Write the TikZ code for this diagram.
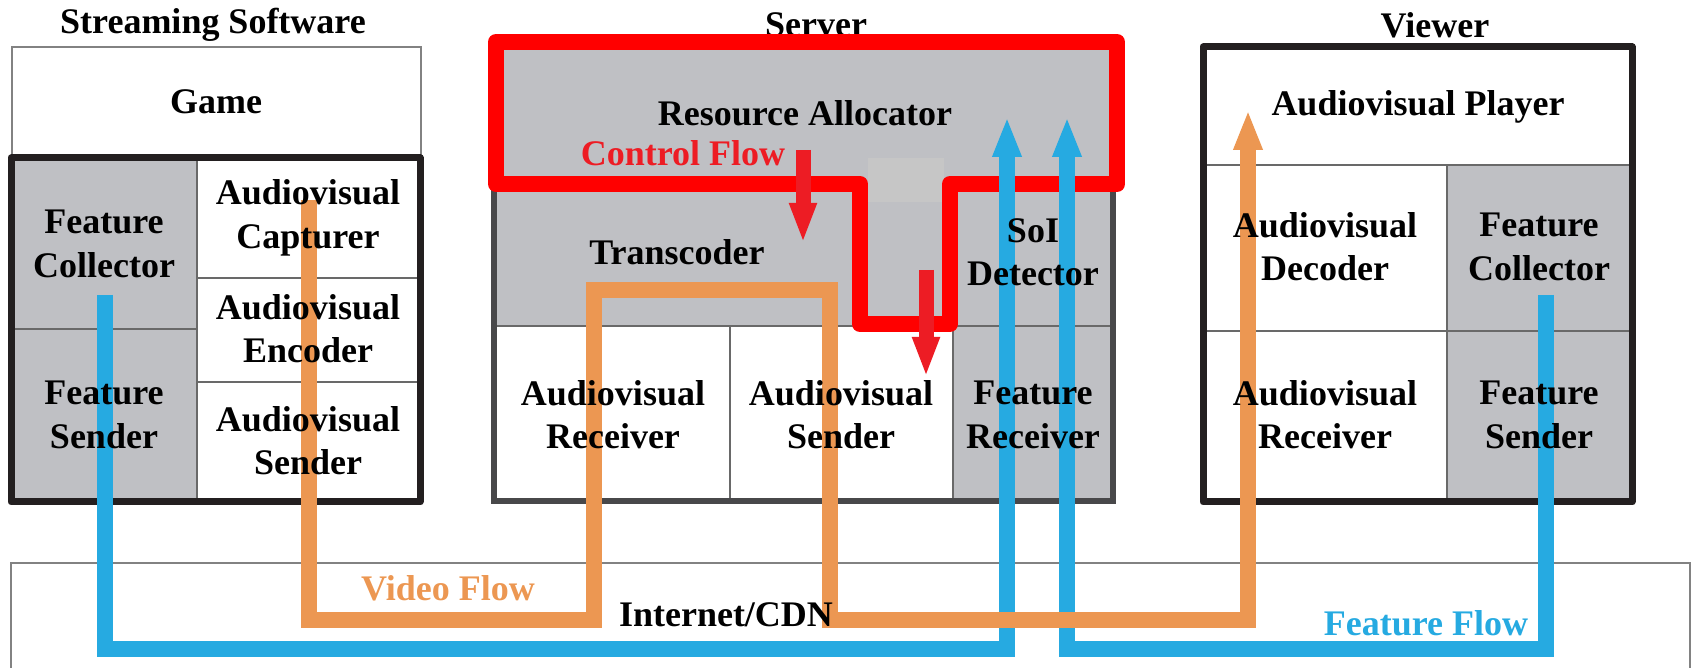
\documentclass[tikz,border=0pt]{standalone}
\usepackage{fontspec}
\setmainfont{Liberation Serif}
\usetikzlibrary{arrows.meta}
\definecolor{cellgray}{RGB}{191,192,196}
\definecolor{patchgray}{RGB}{198,198,198}
\definecolor{flowblue}{RGB}{38,170,225}
\definecolor{floworange}{RGB}{236,151,82}
\definecolor{ctrlred}{RGB}{237,28,36}
\definecolor{framered}{RGB}{255,0,0}
\definecolor{frameblack}{RGB}{35,31,32}
\definecolor{framedark}{RGB}{72,72,74}
\definecolor{divider}{RGB}{105,105,105}
\definecolor{thinframe}{RGB}{130,130,130}
\begin{document}
\begin{tikzpicture}[x=0.3pt,y=-0.3pt,
  lbl/.style={font=\fontsize{10.8}{13}\selectfont\bfseries, align=center, inner sep=0pt},
  divline/.style={draw=divider, line width=0.45pt},
  heavybox/.style={draw=frameblack, line width=2.1pt, line join=round},
  serverbox/.style={draw=framedark, line width=1.8pt},
  flowline/.style={line width=4.8pt, line join=miter,
    -{Triangle[length=12pt,width=8pt]}},
  ctrlarrow/.style={draw=ctrlred, line width=4.5pt,
    -{Triangle[length=12pt,width=7.5pt]}}]
\useasboundingbox (0,0) rectangle (1692,668);

% ---------- Streaming software ----------
\draw[thinframe, line width=0.45pt] (12,47) rectangle (421,155);
\fill[white] (11,158) rectangle (420,502);
\fill[cellgray] (11,158) rectangle (197,502);
\draw[divline] (197,158) -- (197,502);
\draw[divline] (11,329) -- (197,329);
\draw[divline] (197,278) -- (420,278);
\draw[divline] (197,382) -- (420,382);
\draw[heavybox] (11,158) rectangle (420,502);

% ---------- Server ----------
\fill[cellgray] (494,42) rectangle (1113,501);
\fill[white] (494,326) rectangle (953,501);
\draw[divline] (494,326) -- (1113,326);
\draw[divline] (730,326) -- (730,501);
\draw[divline] (953,326) -- (953,501);
\draw[serverbox] (494,42) rectangle (1113,501);

% ---------- Viewer ----------
\fill[white] (1203,47) rectangle (1632,502);
\fill[cellgray] (1447,165) rectangle (1632,502);
\draw[divline] (1203,165) -- (1632,165);
\draw[divline] (1203,331) -- (1632,331);
\draw[divline] (1447,165) -- (1447,502);
\draw[heavybox] (1203,47) rectangle (1632,502);

% ---------- Internet / CDN ----------
\draw[thinframe, line width=0.45pt] (11,668) -- (11,563) -- (1690,563) -- (1690,668);

% ---------- group titles ----------
\node[lbl] (tss) at (213,25) {Streaming Software};
\node[lbl] (tsv) at (816,25) {Server};
\node[lbl] (tvw) at (1435,25) {Viewer};

% ---------- resource allocator outline ----------
\fill[patchgray] (868,158) rectangle (944,202);
\draw[framered, line width=4.8pt, line join=round]
  (496,42) -- (1117,42) -- (1117,184) -- (950,184) -- (950,324)
  -- (860,324) -- (860,184) -- (496,184) -- cycle;

% ---------- control flow ----------
\coordinate (c1s) at (803,150);
\coordinate (c1e) at (803,243);
\coordinate (c2s) at (926,270);
\coordinate (c2e) at (926,377);
\draw[ctrlarrow] (c1s) -- (c1e);
\draw[ctrlarrow] (c2s) -- (c2e);

% ---------- feature flow ----------
\coordinate (fa0) at (105,295);
\coordinate (fa1) at (105,649);
\coordinate (fa2) at (1007,649);
\coordinate (fa3) at (1007,117);
\coordinate (fb0) at (1546,295);
\coordinate (fb1) at (1546,649);
\coordinate (fb2) at (1067,649);
\coordinate (fb3) at (1067,117);
\draw[flowline, draw=flowblue] (fa0) -- (fa1) -- (fa2) -- (fa3);
\draw[flowline, draw=flowblue] (fb0) -- (fb1) -- (fb2) -- (fb3);

% ---------- video flow ----------
\coordinate (v0) at (309,200);
\coordinate (v1) at (309,620);
\coordinate (v2) at (594,620);
\coordinate (v3) at (594,290);
\coordinate (v4) at (830,290);
\coordinate (v5) at (830,620);
\coordinate (v6) at (1248,620);
\coordinate (v7) at (1248,110);
\draw[flowline, draw=floworange] (v0) -- (v1) -- (v2) -- (v3) -- (v4) -- (v5) -- (v6) -- (v7);

% ---------- component labels ----------
\node[lbl] (game) at (216,102) {Game};
\node[lbl] (sfc) at (104,244) {Feature\\Collector};
\node[lbl] (sfs) at (104,415) {Feature\\Sender};
\node[lbl] (sac) at (308,218) {Audiovisual\\Capturer};
\node[lbl] (sae) at (308,329) {Audiovisual\\Encoder};
\node[lbl] (sas) at (308,441) {Audiovisual\\Sender};

\node[lbl] (ra) at (805,113) {Resource Allocator};
\node[lbl, text=ctrlred] (cf) at (683,153) {Control Flow};
\node[lbl] (tc) at (677,252) {Transcoder};
\node[lbl] (soi) at (1033,252) {SoI\\Detector};
\node[lbl] (var) at (613,415) {Audiovisual\\Receiver};
\node[lbl] (vas) at (841,415) {Audiovisual\\Sender};
\node[lbl] (vfr) at (1033,415) {Feature\\Receiver};

\node[lbl] (ap) at (1418,107) {Audiovisual Player};
\node[lbl] (ad) at (1325,247) {Audiovisual\\Decoder};
\node[lbl] (wfc) at (1539,247) {Feature\\Collector};
\node[lbl] (war) at (1325,415) {Audiovisual\\Receiver};
\node[lbl] (wfs) at (1539,415) {Feature\\Sender};

\node[lbl, text=floworange] (vf) at (448,588) {Video Flow};
\node[lbl] (cdn) at (726,615) {Internet/CDN};
\node[lbl, text=flowblue] (ff) at (1426,623) {Feature Flow};
\end{tikzpicture}
\end{document}
